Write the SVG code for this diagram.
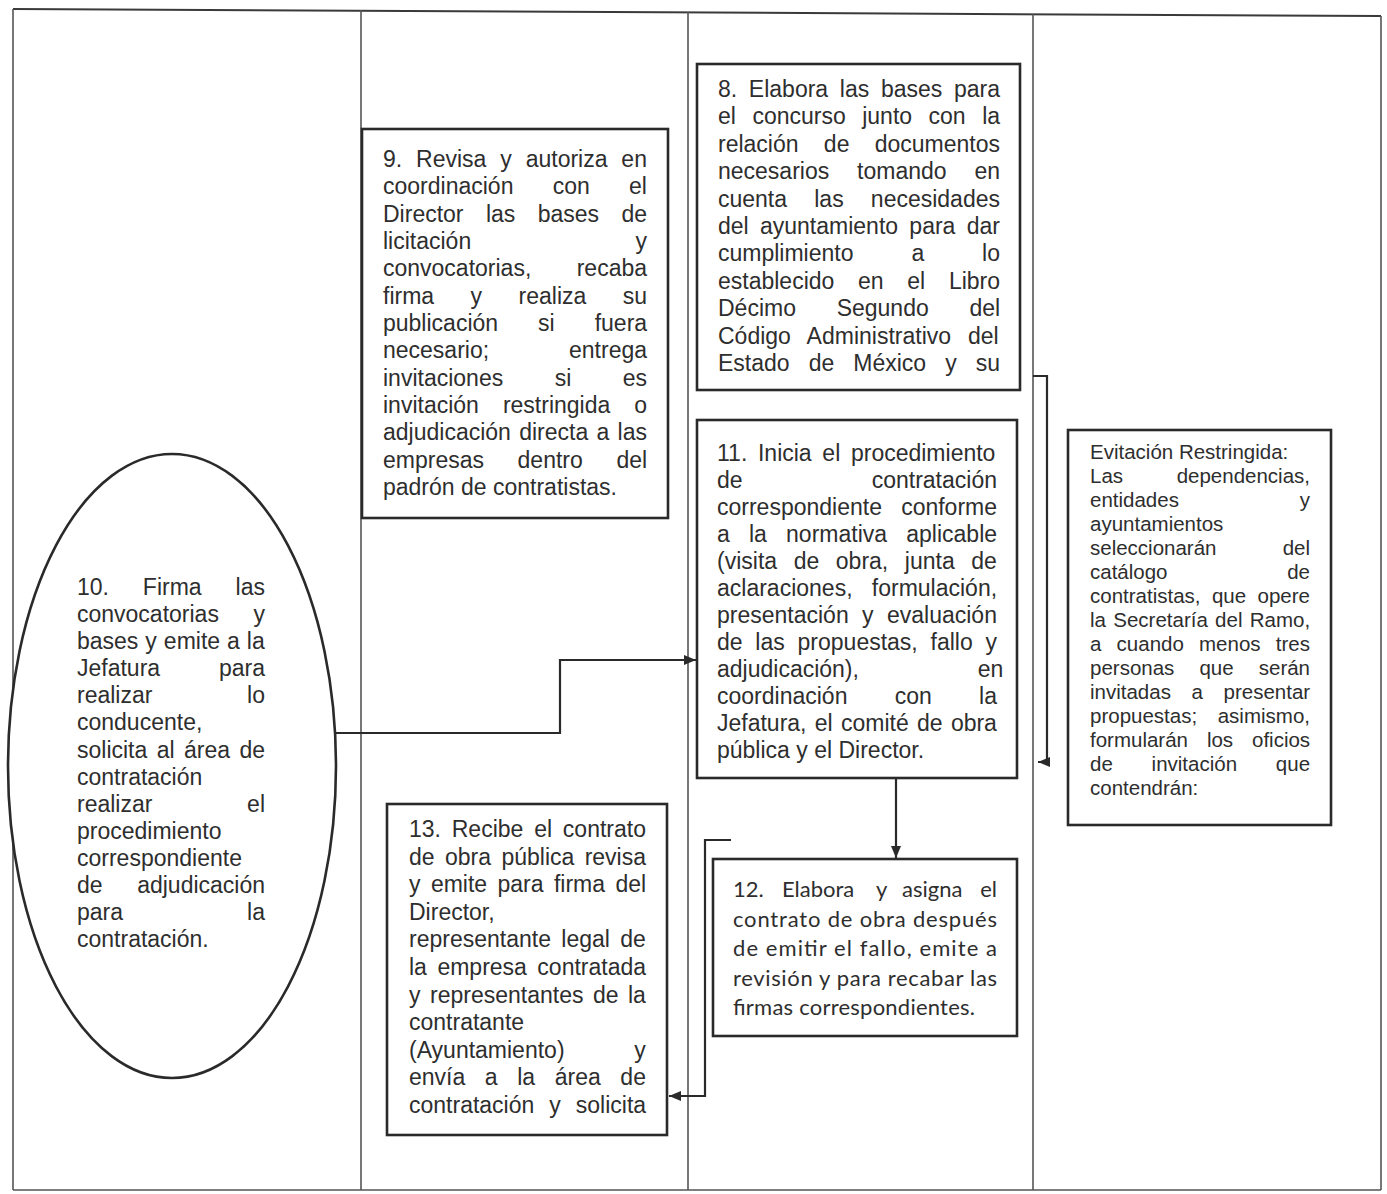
<svg xmlns="http://www.w3.org/2000/svg" width="1387" height="1194" viewBox="0 0 1387 1194">
<style>
.frame path{fill:none;stroke:#555;stroke-width:1.6}
.box{fill:#fff;stroke:#2a2a2a;stroke-width:2.6}
.t{font-family:"Liberation Sans",Arial,sans-serif;font-size:23px;fill:#2e2e2e}
.s{font-size:20.5px}
.c{font-family:Lato,"Open Sans",sans-serif;font-size:22px;fill:#2e2e2e}
.e{text-anchor:end}
.conn path{fill:none;stroke:#2a2a2a;stroke-width:2.2}
</style>
<defs>
<marker id="ah" markerUnits="userSpaceOnUse" markerWidth="12" markerHeight="10" refX="12" refY="5" orient="auto">
<path d="M0,0 L12,5 L0,10 z" fill="#2a2a2a"/>
</marker>
</defs>
<rect width="1387" height="1194" fill="#fff"/>
<g id="frame" class="frame">
<path d="M13,9 L1381,16" style="stroke:#3a3a3a;stroke-width:2"/>
<path d="M13,9 V1190"/>
<path d="M1381,16 V1190"/>
<path d="M13,1190 H1381"/>
<path d="M361,10 V1190"/>
<path d="M688,12 V1190"/>
<path d="M1033,14 V1190"/>
</g>

<g id="node8">
<rect class="box" x="697" y="64" width="323" height="326"/>
<text class="t" x="718" y="97" style="word-spacing:5.3px">8. Elabora las bases para</text>
<text class="t" x="718" y="124.4" style="word-spacing:10.1px">el concurso junto con la</text>
<text class="t" x="718" y="151.8" style="word-spacing:18.9px">relación de documentos</text>
<text class="t" x="718" y="179.2" style="word-spacing:21.5px">necesarios tomando en</text>
<text class="t" x="718" y="206.6" style="word-spacing:20.8px">cuenta las necesidades</text>
<text class="t" x="718" y="234" style="word-spacing:4.9px">del ayuntamiento para dar</text>
<text class="t" x="718" y="261.4" style="word-spacing:51.5px">cumplimiento a lo</text>
<text class="t" x="718" y="288.8" style="word-spacing:17.3px">establecido en el Libro</text>
<text class="t" x="718" y="316.2" style="word-spacing:34.3px">Décimo Segundo del</text>
<text class="t" x="718" y="343.6" style="word-spacing:10.6px">Código Administrativo del</text>
<text class="t" x="718" y="371" style="word-spacing:12.65px">Estado de México y su</text>
</g>

<g id="node9">
<rect class="box" x="362" y="129" width="306" height="389"/>
<text class="t" x="383" y="167" style="word-spacing:7.5px">9. Revisa y autoriza en</text>
<text class="t" x="383" y="194.3" style="word-spacing:32.9px">coordinación con el</text>
<text class="t" x="383" y="221.7" style="word-spacing:16px">Director las bases de</text>
<text class="t" x="383" y="249" style="word-spacing:157.9px">licitación y</text>
<text class="t" x="383" y="276.3" style="word-spacing:39px">convocatorias, recaba</text>
<text class="t" x="383" y="303.7" style="word-spacing:30.1px">firma y realiza su</text>
<text class="t" x="383" y="331" style="word-spacing:33.6px">publicación si fuera</text>
<text class="t" x="383" y="358.3" style="word-spacing:73.5px">necesario; entrega</text>
<text class="t" x="383" y="385.7" style="word-spacing:45.1px">invitaciones si es</text>
<text class="t" x="383" y="413" style="word-spacing:17.6px">invitación restringida o</text>
<text class="t" x="383" y="440.3" style="word-spacing:1.9px">adjudicación directa a las</text>
<text class="t" x="383" y="467.7" style="word-spacing:27.2px">empresas dentro del</text>
<text class="t" x="383" y="495">padrón de contratistas.</text>
</g>

<g id="node10">
<ellipse class="box" cx="172" cy="766" rx="164" ry="312"/>
<text class="t" x="77" y="595" style="word-spacing:27.5px">10. Firma las</text>
<text class="t" x="77" y="622.1" style="word-spacing:28.2px">convocatorias y</text>
<text class="t" x="77" y="649.2" style="word-spacing:0.6px">bases y emite a la</text>
<text class="t" x="77" y="676.2" style="word-spacing:52.5px">Jefatura para</text>
<text class="t" x="77" y="703.3" style="word-spacing:88.3px">realizar lo</text>
<text class="t" x="77" y="730.4">conducente,</text>
<text class="t" x="77" y="757.5" style="word-spacing:3px">solicita al área de</text>
<text class="t" x="77" y="784.6">contratación</text>
<text class="t" x="77" y="811.6" style="word-spacing:88.3px">realizar el</text>
<text class="t" x="77" y="838.7">procedimiento</text>
<text class="t" x="77" y="865.8">correspondiente</text>
<text class="t" x="77" y="892.9" style="word-spacing:28.2px">de adjudicación</text>
<text class="t" x="77" y="920" style="word-spacing:117.7px">para la</text>
<text class="t" x="77" y="947">contratación.</text>
</g>

<g id="node11">
<rect class="box" x="697" y="420" width="320" height="358"/>
<text class="t" x="717" y="461" style="word-spacing:4.3px">11. Inicia el procedimiento</text>
<text class="t" x="717" y="488" style="word-spacing:122.7px">de contratación</text>
<text class="t" x="717" y="515" style="word-spacing:12.8px">correspondiente conforme</text>
<text class="t" x="717" y="542" style="word-spacing:12.8px">a la normativa aplicable</text>
<text class="t" x="717" y="569" style="word-spacing:10.2px">(visita de obra, junta de</text>
<text class="t" x="717" y="596" style="word-spacing:12.9px">aclaraciones, formulación,</text>
<text class="t" x="717" y="623" style="word-spacing:7px">presentación y evaluación</text>
<text class="t" x="717" y="650" style="word-spacing:6.4px">de las propuestas, fallo y</text>
<text class="t" x="717" y="677" style="word-spacing:112.5px">adjudicación), en</text>
<text class="t" x="717" y="704" style="word-spacing:40.9px">coordinación con la</text>
<text class="t" x="717" y="731" style="word-spacing:1.9px">Jefatura, el comité de obra</text>
<text class="t" x="717" y="758">pública y el Director.</text>
</g>

<g id="node12">
<rect class="box" x="713" y="859" width="304" height="177"/>
<text class="c" x="733" y="897">12.</text>
<text class="c" x="782" y="897">Elabora</text>
<text class="c" x="876" y="897">y</text>
<text class="c" x="902" y="897">asigna</text>
<text class="c e" x="997" y="897">el</text>
<text class="c" x="733" y="926.5" textLength="264" lengthAdjust="spacing">contrato de obra después</text>
<text class="c" x="733" y="956" textLength="264" lengthAdjust="spacing">de emitir el fallo, emite a</text>
<text class="c" x="733" y="985.5" textLength="264" lengthAdjust="spacing">revisión y para recabar las</text>
<text class="c" x="733" y="1015" textLength="242" lengthAdjust="spacing">firmas correspondientes.</text>
</g>

<g id="node13">
<rect class="box" x="387" y="804" width="280" height="331"/>
<text class="t" x="409" y="837" style="word-spacing:4.4px">13. Recibe el contrato</text>
<text class="t" x="409" y="864.6" style="word-spacing:4px">de obra pública revisa</text>
<text class="t" x="409" y="892.2" style="word-spacing:4px">y emite para firma del</text>
<text class="t" x="409" y="919.8">Director,</text>
<text class="t" x="409" y="947.4" style="word-spacing:4px">representante legal de</text>
<text class="t" x="409" y="975" style="word-spacing:4.1px">la empresa contratada</text>
<text class="t" x="409" y="1002.6" style="word-spacing:3.1px">y representantes de la</text>
<text class="t" x="409" y="1030.2">contratante</text>
<text class="t" x="409" y="1057.8" style="word-spacing:63.2px">(Ayuntamiento) y</text>
<text class="t" x="409" y="1085.4" style="word-spacing:13.2px">envía a la área de</text>
<text class="t" x="409" y="1113" style="word-spacing:8.6px">contratación y solicita</text>
</g>

<g id="nodeInv">
<rect class="box" x="1068" y="430" width="263" height="395"/>
<text class="t s" x="1090" y="459">Evitación Restringida:</text>
<text class="t s" x="1090" y="483" style="word-spacing:47.9px">Las dependencias,</text>
<text class="t s" x="1090" y="507" style="word-spacing:115.2px">entidades y</text>
<text class="t s" x="1090" y="531">ayuntamientos</text>
<text class="t s" x="1090" y="555" style="word-spacing:60.5px">seleccionarán del</text>
<text class="t s" x="1090" y="579" style="word-spacing:114px">catálogo de</text>
<text class="t s" x="1090" y="603" style="word-spacing:5.7px">contratistas, que opere</text>
<text class="t s" x="1090" y="627" style="word-spacing:1.6px">la Secretaría del Ramo,</text>
<text class="t s" x="1090" y="651" style="word-spacing:9.5px">a cuando menos tres</text>
<text class="t s" x="1090" y="675" style="word-spacing:19.4px">personas que serán</text>
<text class="t s" x="1090" y="699" style="word-spacing:14.9px">invitadas a presentar</text>
<text class="t s" x="1090" y="723" style="word-spacing:14.9px">propuestas; asimismo,</text>
<text class="t s" x="1090" y="747" style="word-spacing:13.2px">formularán los oficios</text>
<text class="t s" x="1090" y="771" style="word-spacing:33.1px">de invitación que</text>
<text class="t s" x="1090" y="795">contendrán:</text>
</g>

<g id="connectors" class="conn">
<path d="M336,733 H560 V660 H696" marker-end="url(#ah)"/>
<path d="M896,778 V858" marker-end="url(#ah)"/>
<path d="M731,840 H705 V1096 H669" marker-end="url(#ah)"/>
<path d="M1033,376 H1047 V762 H1038" marker-end="url(#ah)"/>
</g>
</svg>
